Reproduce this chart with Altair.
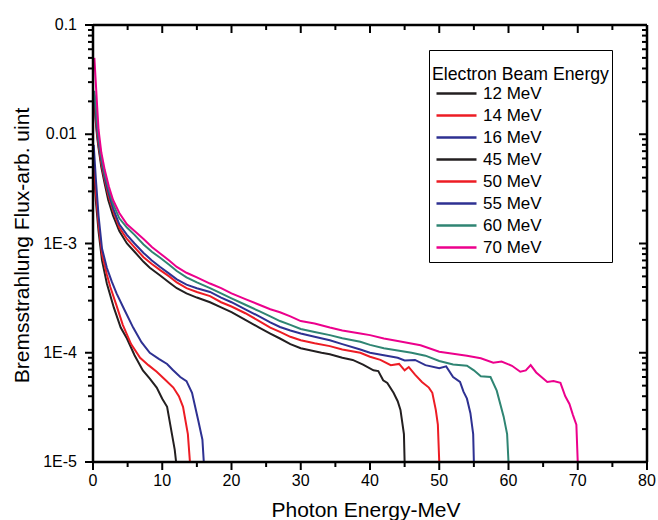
import altair as alt
import pandas as pd

# ---- data ----
labels = ["12 MeV", "14 MeV", "16 MeV", "45 MeV", "50 MeV", "55 MeV", "60 MeV", "70 MeV"]
colors = ["#231f20", "#ed1c24", "#2e3192", "#231f20", "#ed1c24", "#2e3192", "#2f8573", "#ec008c"]

x12 = [0.1, 0.4, 0.8, 1.3, 2, 3, 4, 4.9, 6, 7.2, 8.2, 9.2, 10, 10.7, 11.4, 11.8, 12]
y12 = [0.005, 0.0025, 0.0013, 7e-4, 4.3e-4, 2.6e-4, 1.7e-4, 1.35e-4, 9.5e-5, 6.9e-5, 5.8e-5, 4.8e-5, 3.8e-5, 3.2e-5, 1.8e-5, 1.3e-5, 1e-5]

x14 = [0.1, 0.4, 0.8, 1.3, 2, 2.5, 3.4, 4.3, 5.5, 6.8, 8, 9.2, 10.5, 11.6, 12.4, 13, 13.7, 14]
y14 = [0.006, 0.003, 0.0015, 8e-4, 5.2e-4, 4e-4, 2.7e-4, 1.8e-4, 1.2e-4, 9e-5, 7.7e-5, 6.7e-5, 5.6e-5, 4.8e-5, 4.0e-5, 3.2e-5, 1.8e-5, 1e-5]

x16 = [0.1, 0.4, 0.8, 1.3, 2, 2.7, 3.4, 4.5, 5.8, 7, 8.2, 9.5, 10.7, 11.5, 12.6, 13.5, 14.3, 15.2, 15.8, 16]
y16 = [0.008, 0.004, 0.0018, 9e-4, 6e-4, 4.5e-4, 3.5e-4, 2.5e-4, 1.7e-4, 1.25e-4, 1.0e-4, 8.8e-5, 7.9e-5, 7.0e-5, 6.0e-5, 5.5e-5, 4.3e-5, 2.4e-5, 1.6e-5, 1e-5]

x45 = [0.2, 0.4, 0.6, 0.8, 1.2, 1.7, 2.2, 2.9, 3.8, 4.9, 6, 7.3, 8.2, 9.7, 11, 12.1, 13.5, 15, 16.9, 18.5, 20, 22, 24, 25.6, 27, 28.5, 30, 31.5, 33, 34.2, 36, 37.5, 39, 40.5, 41.2, 41.9, 42.5, 43.4, 44, 44.4, 44.9, 45]
y45 = [0.02, 0.013, 0.0095, 0.0075, 0.005, 0.0035, 0.0025, 0.0018, 0.0013, 0.001, 8.4e-4, 6.8e-4, 6.0e-4, 5.1e-4, 4.4e-4, 3.9e-4, 3.5e-4, 3.2e-4, 2.9e-4, 2.6e-4, 2.35e-4, 2.0e-4, 1.7e-4, 1.5e-4, 1.35e-4, 1.2e-4, 1.1e-4, 1.05e-4, 1.0e-4, 9.7e-5, 9.0e-5, 8.6e-5, 7.8e-5, 6.9e-5, 6.8e-5, 5.6e-5, 5.3e-5, 4.3e-5, 3.6e-5, 3.0e-5, 1.8e-5, 1e-5]

x50 = [0.2, 0.4, 0.6, 0.8, 1.2, 1.7, 2.2, 2.9, 3.8, 4.9, 6, 7.3, 8.5, 9.7, 11, 12.1, 13.5, 15, 16.9, 18.5, 20, 22, 24, 25.6, 27, 28.5, 30, 32, 34.2, 36, 38.6, 40, 41.5, 43, 44.2, 45, 45.6, 46.5, 47.5, 48.5, 49, 49.5, 49.8, 50]
y50 = [0.022, 0.014, 0.010, 0.008, 0.0054, 0.0038, 0.0028, 0.002, 0.0014, 0.0011, 9.2e-4, 7.5e-4, 6.5e-4, 5.7e-4, 5.0e-4, 4.4e-4, 3.9e-4, 3.6e-4, 3.3e-4, 2.9e-4, 2.65e-4, 2.3e-4, 1.95e-4, 1.7e-4, 1.55e-4, 1.4e-4, 1.3e-4, 1.22e-4, 1.15e-4, 1.07e-4, 1.0e-4, 9.2e-5, 8.6e-5, 7.7e-5, 7.9e-5, 6.9e-5, 7.4e-5, 6.3e-5, 5.4e-5, 4.8e-5, 4.3e-5, 3.0e-5, 2.2e-5, 1e-5]

x55 = [0.2, 0.4, 0.6, 0.8, 1.2, 1.7, 2.2, 2.9, 3.8, 4.9, 6, 7.3, 8.5, 9.7, 11, 12.1, 13.5, 15, 16.9, 18.5, 20, 22, 24, 25.6, 27, 28.5, 30, 32, 34.2, 36, 38.6, 40, 42, 44, 45, 46.5, 48, 50, 51, 52, 53, 53.5, 54, 54.5, 54.9, 55]
y55 = [0.023, 0.016, 0.011, 0.0085, 0.0058, 0.004, 0.003, 0.0021, 0.0015, 0.0012, 0.001, 8.2e-4, 7.0e-4, 6.1e-4, 5.3e-4, 4.7e-4, 4.2e-4, 3.9e-4, 3.6e-4, 3.2e-4, 2.9e-4, 2.5e-4, 2.15e-4, 1.9e-4, 1.72e-4, 1.6e-4, 1.5e-4, 1.4e-4, 1.3e-4, 1.2e-4, 1.07e-4, 1.0e-4, 9.5e-5, 9.0e-5, 8.5e-5, 8.6e-5, 7.7e-5, 7.2e-5, 7.5e-5, 6.0e-5, 5.4e-5, 4.4e-5, 3.8e-5, 2.8e-5, 1.8e-5, 1e-5]

x60 = [0.2, 0.4, 0.6, 0.8, 1.2, 1.7, 2.3, 2.9, 3.8, 4.9, 6, 7.3, 8.5, 9.7, 11, 12.1, 13.5, 15, 16.9, 18.5, 20, 22, 24, 25.6, 27, 28.5, 30, 32, 34.2, 36, 38.6, 40, 42, 44, 46, 48, 50, 52, 54, 55, 56, 57.4, 58.3, 59.3, 59.8, 60]
y60 = [0.025, 0.018, 0.013, 0.0095, 0.0062, 0.0043, 0.0031, 0.0023, 0.0017, 0.0014, 0.0012, 9.8e-4, 8.4e-4, 7.4e-4, 6.4e-4, 5.6e-4, 4.9e-4, 4.4e-4, 3.9e-4, 3.5e-4, 3.15e-4, 2.75e-4, 2.4e-4, 2.15e-4, 1.95e-4, 1.8e-4, 1.65e-4, 1.55e-4, 1.45e-4, 1.36e-4, 1.26e-4, 1.18e-4, 1.1e-4, 1.05e-4, 1.0e-4, 9.4e-5, 8.4e-5, 7.8e-5, 7.6e-5, 6.9e-5, 6.1e-5, 6.0e-5, 4.5e-5, 2.6e-5, 1.8e-5, 1e-5]

x70 = [0.2, 0.4, 0.6, 0.8, 1.2, 1.7, 2.3, 2.9, 3.8, 4.9, 6, 7.3, 8.5, 9.7, 11, 12.1, 13.5, 15, 16.9, 18.5, 20, 22, 24, 25.6, 27, 28.5, 30, 32, 34.2, 36, 38.6, 40, 42, 44, 47.3, 50, 52, 54, 56, 57.8, 59, 60.5, 61.7, 62.5, 63.2, 64, 65.6, 66.5, 67.5, 68.2, 68.8, 69.3, 69.8, 70]
y70 = [0.05, 0.03, 0.018, 0.011, 0.0068, 0.0047, 0.0033, 0.0025, 0.0019, 0.0015, 0.0013, 0.0011, 9.3e-4, 8.1e-4, 7.0e-4, 6.1e-4, 5.4e-4, 4.9e-4, 4.3e-4, 3.9e-4, 3.5e-4, 3.1e-4, 2.75e-4, 2.5e-4, 2.35e-4, 2.15e-4, 1.95e-4, 1.85e-4, 1.7e-4, 1.6e-4, 1.5e-4, 1.45e-4, 1.35e-4, 1.28e-4, 1.17e-4, 1.02e-4, 9.8e-5, 9.4e-5, 8.9e-5, 8.1e-5, 8.3e-5, 7.6e-5, 6.7e-5, 6.9e-5, 7.7e-5, 6.6e-5, 5.4e-5, 5.5e-5, 5.3e-5, 4.0e-5, 3.4e-5, 2.7e-5, 2.2e-5, 1e-5]

series_x = [x12, x14, x16, x45, x50, x55, x60, x70]
series_y = [y12, y14, y16, y45, y50, y55, y60, y70]

x_major = [0, 10, 20, 30, 40, 50, 60, 70, 80]
x_labels = ["0", "10", "20", "30", "40", "50", "60", "70", "80"]
x_minor = [5, 15, 25, 35, 45, 55, 65, 75]
y_major = [1e-5, 1e-4, 1e-3, 1e-2, 1e-1]
y_labels = ["1E-5", "1E-4", "1E-3", "0.01", "0.1"]
y_minor = [k * 10.0 ** n for n in range(-5, -1) for k in range(2, 10)]
x_title = "Photon Energy-MeV"
y_title = "Bremsstrahlung Flux-arb. uint"

rows = []
for lab, xs, ys in zip(labels, series_x, series_y):
    for i, (xv, yv) in enumerate(zip(xs, ys)):
        rows.append({"Energy": lab, "x": xv, "y": yv, "i": i})
df = pd.DataFrame(rows)

W, H = 554, 437
FONT = "Liberation Sans"
MAJ, MIN = 8, 5

xscale = alt.Scale(domain=[0, 80], nice=False, zero=False)
yscale = alt.Scale(type="log", domain=[1e-5, 0.1], nice=False)

lines = alt.Chart(df).mark_line(strokeWidth=2, clip=True).encode(
    x=alt.X("x:Q", scale=xscale, axis=None),
    y=alt.Y("y:Q", scale=yscale, axis=None),
    color=alt.Color("Energy:N", sort=labels,
                    scale=alt.Scale(domain=labels, range=colors),
                    legend=alt.Legend(orient="none", legendX=336, legendY=25,
                                      title="Electron Beam Energy",
                                      strokeColor="black", fillColor="white",
                                      padding=3, symbolType="stroke",
                                      symbolSize=1600, symbolStrokeWidth=2.5,
                                      clipHeight=21.6, rowPadding=0,
                                      labelFontSize=17, titleFontSize=17.7,
                                      labelFont=FONT, titleFont=FONT,
                                      titleFontWeight="normal", titleColor="black",
                                      labelColor="black", titleBaseline="line-top",
                                      titleLineHeight=43, titlePadding=12,
                                      labelOffset=5, symbolOffset=3)),
    order=alt.Order("i:Q"),
)

xmaj = pd.DataFrame({"v": x_major, "t": x_labels})
xmin = pd.DataFrame({"v": x_minor})
ymaj = pd.DataFrame({"v": y_major, "t": y_labels})
ymin = pd.DataFrame({"v": y_minor})
xedge = pd.DataFrame({"v": [x_major[0], x_major[-1]]})
yedge = pd.DataFrame({"v": [y_major[0], y_major[-1]]})

def xrule(d, y0, y1, sw=2):
    return alt.Chart(d).mark_rule(color="black", strokeWidth=sw).encode(
        x=alt.X("v:Q", scale=xscale, axis=None), y=alt.value(y0), y2=alt.value(y1))

def yrule(d, x0, x1, sw=2):
    return alt.Chart(d).mark_rule(color="black", strokeWidth=sw).encode(
        y=alt.Y("v:Q", scale=yscale, axis=None), x=alt.value(x0), x2=alt.value(x1))

rules = [
    xrule(xedge, 0, H, 2.5), yrule(yedge, 0, W, 2.5),       # frame
    xrule(xmaj, H, H + MAJ), xrule(xmin, H, H + MIN),        # bottom ticks (outward)
    xrule(xmaj, 0, MAJ), xrule(xmin, 0, MIN),                # top ticks (inward)
    yrule(ymaj, 0, -MAJ), yrule(ymin, 0, -MIN),              # left ticks (outward)
    yrule(ymaj, W, W - MAJ), yrule(ymin, W, W - MIN),        # right ticks (inward)
]

xlab = alt.Chart(xmaj).mark_text(font=FONT, fontSize=16, color="black",
                                 align="center", baseline="middle").encode(
    x=alt.X("v:Q", scale=xscale, axis=None), y=alt.value(H + 19), text="t:N")

ylab = alt.Chart(ymaj).mark_text(font=FONT, fontSize=16, color="black",
                                 align="right", baseline="middle").encode(
    y=alt.Y("v:Q", scale=yscale, axis=None), x=alt.value(-16), text="t:N")

xtit = alt.Chart(pd.DataFrame({"t": [x_title]})).mark_text(
    font=FONT, fontSize=21, color="black", align="center", baseline="alphabetic").encode(
    x=alt.value(W / 2 - 4), y=alt.value(H + 55), text="t:N")

ytit = alt.Chart(pd.DataFrame({"t": [y_title]})).mark_text(
    font=FONT, fontSize=21, color="black", align="center", baseline="alphabetic",
    angle=270).encode(
    x=alt.value(-64), y=alt.value(H / 2 + 2), text="t:N")

chart = alt.layer(lines, *rules, xlab, ylab, xtit, ytit).properties(
    width=W, height=H,
    autosize=alt.AutoSizeParams(type="none"),
    padding={"left": 93, "top": 25, "right": 11, "bottom": 58},
).configure_view(stroke="black", strokeWidth=2.5).configure(background="white")

chart.save("out.html", embed_options={"renderer": "svg", "actions": False})
